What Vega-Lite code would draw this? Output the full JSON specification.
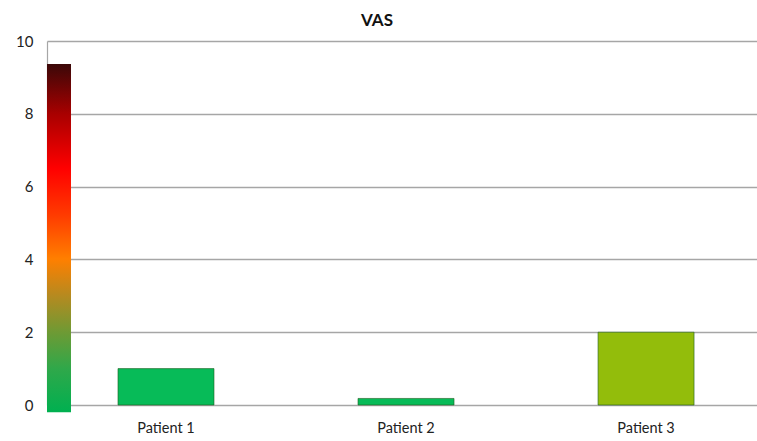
{
  "$schema": "https://vega.github.io/schema/vega-lite/v6.json",
  "autosize": "none",
  "width": 710,
  "height": 364,
  "padding": {"left": 47, "top": 41, "right": 0, "bottom": 36},
  "background": "white",
  "config": {
    "view": {"stroke": null},
    "font": "Lato",
    "axis": {"labelFont": "Lato", "labelColor": "#222222"}
  },
  "title": {
    "text": "VAS",
    "fontSize": 17,
    "fontWeight": "bold",
    "font": "Lato",
    "color": "#111111",
    "anchor": "middle",
    "dx": -25,
    "offset": 4
  },
  "datasets": {
    "scale": [{"label": "VAS scale", "top": 9.37, "bottom": -0.2}],
    "patients": [
      {"patient": "Patient 1", "vas": 1.0},
      {"patient": "Patient 2", "vas": 0.18},
      {"patient": "Patient 3", "vas": 2.0}
    ]
  },
  "resolve": {"scale": {"x": "independent"}},
  "layer": [
    {
      "data": {"name": "patients"},
      "mark": {"type": "bar", "stroke": "#1f5f1f", "strokeOpacity": 0.6, "strokeWidth": 1},
      "encoding": {
        "x": {
          "field": "patient",
          "type": "nominal",
          "sort": null,
          "scale": {"paddingInner": 0.6, "paddingOuter": 0.279, "align": 0.53},
          "axis": {
            "title": null,
            "labelAngle": 0,
            "labelFontSize": 14.5,
            "labelPadding": 16,
            "ticks": false,
            "domain": false
          }
        },
        "y": {
          "field": "vas",
          "type": "quantitative",
          "scale": {"domain": [0, 10]},
          "axis": {
            "title": null,
            "values": [0, 2, 4, 6, 8, 10],
            "labelFontSize": 15,
            "labelPadding": 14,
            "ticks": false,
            "domain": true,
            "domainColor": "#a6a6a6",
            "domainWidth": 1.2,
            "gridColor": "#a6a6a6",
            "gridWidth": 1.3
          }
        },
        "color": {
          "field": "patient",
          "type": "nominal",
          "legend": null,
          "scale": {
            "domain": ["Patient 1", "Patient 2", "Patient 3"],
            "range": ["#07bb58", "#07bb58", "#93bd0b"]
          }
        }
      }
    },
    {
      "data": {"name": "scale"},
      "mark": {
        "type": "bar",
        "fill": {
          "gradient": "linear",
          "x1": 0, "y1": 1, "x2": 0, "y2": 0,
          "stops": [
            {"offset": 0, "color": "#00b050"},
            {"offset": 0.125, "color": "#2fa84a"},
            {"offset": 0.23, "color": "#6e9a34"},
            {"offset": 0.334, "color": "#b58a20"},
            {"offset": 0.44, "color": "#ff7f00"},
            {"offset": 0.564, "color": "#ff3c00"},
            {"offset": 0.7, "color": "#ff0000"},
            {"offset": 0.857, "color": "#a80000"},
            {"offset": 1, "color": "#3a0808"}
          ]
        }
      },
      "encoding": {
        "x": {
          "field": "label",
          "type": "nominal",
          "axis": null,
          "scale": {"paddingInner": 0.93003, "paddingOuter": 1, "align": 0}
        },
        "y": {"field": "top", "type": "quantitative"},
        "y2": {"field": "bottom"}
      }
    }
  ]
}
